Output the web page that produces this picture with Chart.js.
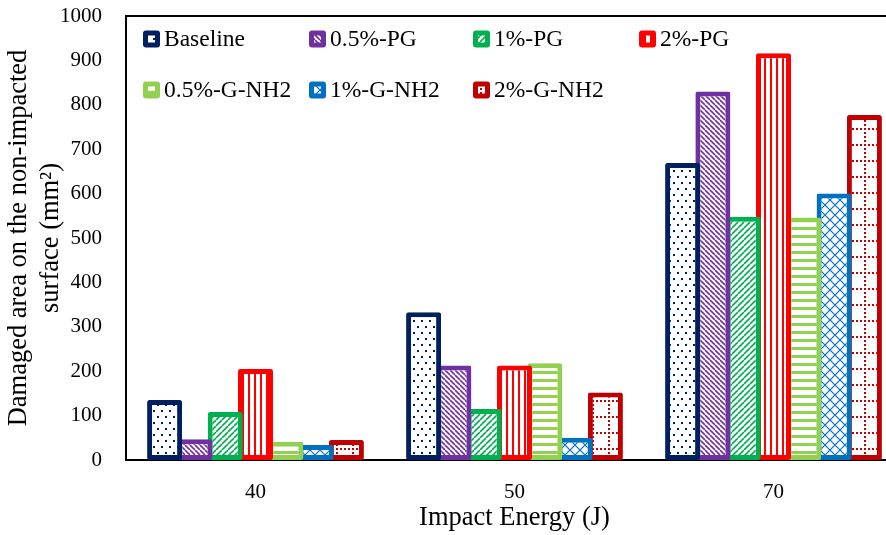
<!DOCTYPE html>
<html>
<head>
<meta charset="utf-8">
<script src="https://cdn.jsdelivr.net/npm/chart.js@4.4.1/dist/chart.umd.min.js"></script>
<style>
  html, body { margin: 0; padding: 0; background: #fff; overflow: hidden; }
  #wrap { width: 886px; height: 535px; overflow: hidden; }
</style>
</head>
<body>
<div id="wrap"><canvas id="chart" width="905" height="535"></canvas></div>
<script>
// data
const energies = ["40", "50", "70"];
const seriesNames = ["Baseline", "0.5%-PG", "1%-PG", "2%-PG", "0.5%-G-NH2", "1%-G-NH2", "2%-G-NH2"];
const baseline = [135, 333, 669];
const pg05 = [47, 213, 830];
const pg1 = [108, 115, 548];
const pg2 = [205, 213, 916];
const gnh05 = [41, 218, 546];
const gnh1 = [34, 50, 600];
const gnh2 = [45, 152, 777];
const yTicks = [0, 100, 200, 300, 400, 500, 600, 700, 800, 900, 1000];

const seriesValues = [baseline, pg05, pg1, pg2, gnh05, gnh1, gnh2];
const seriesColors = ["#002060", "#7030A0", "#00B050", "#FF0000", "#92D050", "#0070C0", "#C00000"];
const seriesFills = ["dots", "dnDiag", "upDiag", "vert", "horiz", "diamond", "grid"];

const FONT = "'Liberation Serif', 'Times New Roman', serif";

// little tiles for the Excel-like pattern fills
const makePattern = (kind, color) => {
    const sizes = { dots: [8, 12], dnDiag: [5, 5], upDiag: [6, 6], vert: [6, 6], horiz: [8, 8], diamond: [10, 10], grid: [16, 16] };
    const [w, h] = sizes[kind];
    const t = document.createElement("canvas");
    t.width = w; t.height = h;
    const g = t.getContext("2d");
    g.fillStyle = "#fff";
    g.fillRect(0, 0, w, h);
    g.fillStyle = color;
    g.strokeStyle = color;
    if (kind == "dots") {
        g.fillRect(1, 2, 2, 2);
        g.fillRect(5, 8, 2, 2);
    } else if (kind == "dnDiag" || kind == "upDiag") {
        g.lineWidth = 1.6;
        for (let o = -w; o <= w; o += w) {
            g.beginPath();
            if (kind == "dnDiag") { g.moveTo(o, 0); g.lineTo(o + w, h); }
            else { g.moveTo(o, h); g.lineTo(o + w, 0); }
            g.stroke();
        }
    } else if (kind == "vert") {
        g.fillRect(2, 0, 2, h);
    } else if (kind == "horiz") {
        g.fillRect(0, 3, w, 3);
    } else if (kind == "diamond") {
        g.lineWidth = 1.2;
        g.beginPath();
        g.moveTo(0, 0); g.lineTo(w, h);
        g.moveTo(w, 0); g.lineTo(0, h);
        g.stroke();
    } else if (kind == "grid") {
        for (let i = 0; i < w; i += 4) g.fillRect(i, 0, 2, 2);
        for (let j = 4; j < h; j += 4) g.fillRect(0, j, 2, 2);
    }
    return g.createPattern(t, "repeat");
};

// bars a bit wider than their slot so the outlines overlap like Excel's
const datasets = seriesNames.map((name, i) => ({
    label: name,
    data: seriesValues[i],
    backgroundColor: makePattern(seriesFills[i], seriesColors[i]),
    borderColor: seriesColors[i],
    borderWidth: 5,
    borderRadius: 2,
    borderSkipped: false,
    categoryPercentage: 0.819,
    barPercentage: 1.155,
}));

// legend laid out in fixed columns inside the plot, plus the top frame line
const legendCols = [143, 309, 473, 639];
const legendRows = [39, 90];
const framePlugin = {
    id: "frame",
    afterDraw(chart) {
        const ctx = chart.ctx;
        const area = chart.chartArea;
        ctx.save();
        ctx.strokeStyle = "#000";
        ctx.lineWidth = 2;
        ctx.beginPath();
        ctx.moveTo(area.left - 1, area.top);
        ctx.lineTo(area.right + 2, area.top);
        ctx.stroke();

        ctx.font = `23.5px ${FONT}`;
        ctx.textBaseline = "middle";
        chart.data.datasets.forEach((ds, i) => {
            const x = legendCols[i % 4];
            const y = legendRows[Math.floor(i / 4)];
            ctx.fillStyle = ds.borderColor;
            ctx.beginPath();
            ctx.roundRect(x, y - 8.5, 17, 17, 3);
            ctx.fill();
            ctx.fillStyle = ds.backgroundColor;
            ctx.fillRect(x + 5, y - 3.5, 7, 7);
            ctx.fillStyle = "#000";
            ctx.fillText(ds.label, x + 21, y + 1);
        });
        ctx.restore();
    },
};

new Chart(document.getElementById("chart"), {
    type: "bar",
    data: { labels: energies, datasets },
    options: {
        responsive: false,
        animation: false,
        layout: { padding: { top: 16, right: 2, left: 0, bottom: 0 } },
        plugins: { legend: { display: false }, tooltip: { enabled: false } },
        scales: {
            x: {
                z: 1,
                grid: { display: false, drawTicks: false },
                border: { color: "#000", width: 2 },
                ticks: { color: "#000", font: { family: FONT, size: 21 }, padding: 20 },
                title: {
                    display: true,
                    text: "Impact Energy (J)",
                    color: "#000",
                    font: { family: FONT, size: 26.5 },
                    padding: { top: 0, bottom: 1 },
                },
                afterFit: s => { s.height = 75; s.paddingLeft = 0; s.paddingRight = 0; },
            },
            y: {
                min: 0,
                max: 1000,
                afterBuildTicks: s => { s.ticks = yTicks.map(v => ({ value: v })); },
                grid: { display: false, drawTicks: false },
                border: { color: "#000", width: 2 },
                ticks: {
                    color: "#000",
                    font: { family: FONT, size: 21 },
                    padding: 24,
                    callback: v => String(v),
                },
                title: {
                    display: true,
                    text: ["Damaged area on the non-impacted", "surface (mm\u00B2)"],
                    color: "#000",
                    font: { family: FONT, size: 26.5, lineHeight: 1.2 },
                    padding: { top: 3, bottom: 0 },
                },
                afterFit: s => { s.width = 126; s.paddingTop = 0; s.paddingBottom = 0; },
            },
        },
    },
    plugins: [framePlugin],
});
</script>
</body>
</html>
